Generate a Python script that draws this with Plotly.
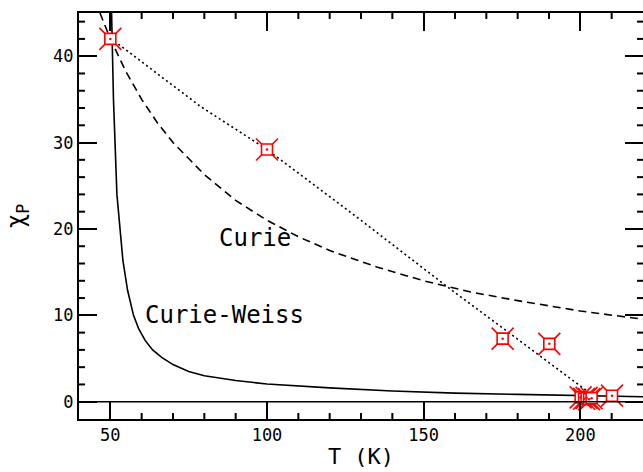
import plotly.graph_objects as go

# Curie-Weiss curve (solid)
T_cw = [50.4, 51.0, 52.1, 53.0, 54.0, 55.5, 57.4, 59.0, 61.1, 63.5, 66.5, 70, 75, 80, 90, 100, 120, 140, 160, 180, 200, 220]
chi_cw = [45.0, 35.0, 24.0, 20.0, 16.4, 12.9, 10.0, 8.5, 7.1, 6.0, 5.1, 4.3, 3.5, 3.0, 2.45, 2.05, 1.6, 1.25, 1.0, 0.85, 0.7, 0.58]

# Curie curve (dashed)
T_c = [46.7, 50, 55, 60, 65, 70, 80, 90, 100, 110, 120, 135, 150, 165, 180, 200, 220]
chi_c = [45.0, 42.0, 38.2, 35.0, 32.3, 30.0, 26.3, 23.3, 21.0, 19.1, 17.5, 15.6, 14.0, 12.7, 11.7, 10.5, 9.55]

# Dotted guide line
T_fit = [50, 78.7, 100, 130, 157.2, 175, 194, 206]
chi_fit = [42.1, 34.2, 29.2, 21.0, 13.4, 8.6, 3.5, 0.2]

# Data points (red markers)
T_pts = [50, 100, 175.2, 190.1, 200.1, 201.2, 202.0, 202.8, 203.6, 210.1]
chi_pts = [42.0, 29.2, 7.3, 6.7, 0.5, 0.35, 0.45, 0.3, 0.4, 0.7]

x_ticks = [50, 100, 150, 200]
x_minor = [60, 70, 80, 90, 110, 120, 130, 140, 160, 170, 180, 190, 210]
y_ticks = [0, 10, 20, 30, 40]
y_minor = [2, 4, 6, 8, 12, 14, 16, 18, 22, 24, 26, 28, 32, 34, 36, 38, 42, 44]

X_RANGE = [40, 220]
Y_RANGE = [-2, 45]

RED = "#ff0000"
FONT = "DejaVu Sans Mono"

W, H = 643, 472
ML, MR, MT, MB = 79, 0, 13, 53
PLOT_W, PLOT_H = W - ML - MR, H - MT - MB
MINOR_LEN = 6

fig = go.Figure()
fig.add_trace(go.Scatter(x=T_cw, y=chi_cw, mode="lines",
                         line=dict(color="black", width=1.6), hoverinfo="skip"))
fig.add_trace(go.Scatter(x=T_c, y=chi_c, mode="lines",
                         line=dict(color="black", width=1.6, dash="8px,5px"), hoverinfo="skip"))
fig.add_trace(go.Scatter(x=T_fit, y=chi_fit, mode="lines",
                         line=dict(color="black", width=1.6, dash="2px,3px"), hoverinfo="skip"))
fig.add_trace(go.Scatter(x=T_pts, y=chi_pts, mode="markers",
                         marker=dict(symbol="x-thin-open", size=22, color=RED,
                                     line=dict(color=RED, width=1.6))))
fig.add_trace(go.Scatter(x=T_pts, y=chi_pts, mode="markers",
                         marker=dict(symbol="square", size=11, color="white",
                                     line=dict(color=RED, width=1.6))))
fig.add_trace(go.Scatter(x=T_pts, y=chi_pts, mode="markers", yaxis="y2",
                         marker=dict(symbol="circle", size=2.5, color=RED, line=dict(width=0))))

tickfont = dict(family=FONT, size=17, color="black")

# minor tick decorations (axis furniture), placed from the minor tick lists
tick_line = dict(color="black", width=2)
fx = MINOR_LEN / PLOT_H
fy = MINOR_LEN / PLOT_W
shapes = [dict(type="line", xref="paper", x0=0, x1=1, yref="y", y0=0, y1=0,
               line=dict(color="black", width=1.6), layer="above")]
for xv in x_minor:
    shapes.append(dict(type="line", xref="x", x0=xv, x1=xv, yref="paper", y0=0, y1=fx,
                       line=tick_line, layer="above"))
    shapes.append(dict(type="line", xref="x", x0=xv, x1=xv, yref="paper", y0=1 - fx, y1=1,
                       line=tick_line, layer="above"))
for yv in y_minor:
    shapes.append(dict(type="line", xref="paper", x0=0, x1=fy, yref="y", y0=yv, y1=yv,
                       line=tick_line, layer="above"))
    shapes.append(dict(type="line", xref="paper", x0=1 - fy, x1=1, yref="y", y0=yv, y1=yv,
                       line=tick_line, layer="above"))

fig.update_layout(
    width=W, height=H, autosize=False,
    margin=dict(l=ML, r=MR, t=MT, b=MB, pad=0),
    paper_bgcolor="white", plot_bgcolor="white",
    showlegend=False,
    xaxis=dict(range=X_RANGE, tickvals=x_ticks, ticks="inside", ticklen=18, tickwidth=2,
               tickcolor="black", showgrid=False, zeroline=False,
               showline=True, linewidth=2, linecolor="black", mirror="ticks", tickfont=tickfont,
               title=dict(text="T (K)", font=dict(family=FONT, size=22, color="black"), standoff=4)),
    yaxis=dict(range=Y_RANGE, tickvals=y_ticks, ticks="inside", ticklen=18, tickwidth=2,
               tickcolor="black", showgrid=False, zeroline=False,
               showline=True, linewidth=2, linecolor="black", tickfont=tickfont,
               title=dict(text="χ<sub>P</sub>", font=dict(family=FONT, size=24, color="black"), standoff=22)),
    yaxis2=dict(range=Y_RANGE, overlaying="y", side="right", tickvals=y_ticks, ticks="inside",
                ticklen=18, tickwidth=2, tickcolor="black",
                showticklabels=False, showline=False, showgrid=False, zeroline=False),
    shapes=shapes,
    annotations=[
        dict(x=84.2, y=18.9, text="Curie", showarrow=False, xanchor="left", yanchor="middle",
             font=dict(family=FONT, size=24, color="black")),
        dict(x=60.5, y=10.0, text="Curie-Weiss", showarrow=False, xanchor="left", yanchor="middle",
             font=dict(family=FONT, size=24, color="black")),
    ],
)

post = ("document.documentElement.style.margin='0';document.body.style.margin='0';"
        "document.body.style.padding='0';document.body.style.overflow='hidden';"
        "document.documentElement.style.overflow='hidden';")

fig.write_html("out.html", config={"responsive": False, "displayModeBar": False}, post_script=post)
